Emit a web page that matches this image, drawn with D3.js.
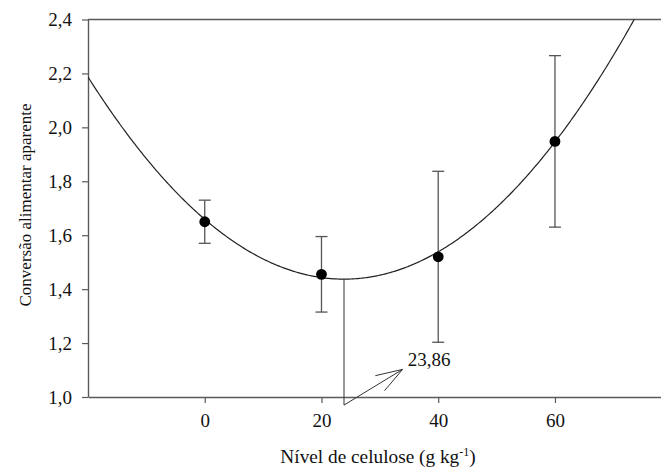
<!DOCTYPE html>
<html><head><meta charset="utf-8">
<script src="https://cdn.jsdelivr.net/npm/d3@7"></script>
<style>
html,body{margin:0;padding:0;background:#fff;}
</style></head>
<body>
<svg id="chart" width="661" height="469"></svg>
<script>
// ---- data ----
const levels = [0, 20, 40, 60];
const means = [1.65, 1.455, 1.52, 1.948];
const errors = [0.08, 0.14, 0.317, 0.318];
const xTicks = [0, 20, 40, 60];
const yTicks = [1.0, 1.2, 1.4, 1.6, 1.8, 2.0, 2.2, 2.4];
// fitted quadratic: y = b0 + b1*x + b2*x^2
const coef = [1.659, -0.0186, 0.0003897];
const xMin = 23.86;
const minLabel = "23,86";

const FONT = "Liberation Serif, Tinos, Times New Roman, Times, Nimbus Roman, DejaVu Serif, serif";
const svg = d3.select("#chart").attr("font-family", FONT);
const m = {left: 88, top: 19.5, bottom: 397, right: 671.7};
const x = d3.scaleLinear().domain([-20, 80]).range([m.left, m.right]);
const y = d3.scaleLinear().domain([1.0, 2.4]).range([m.bottom, m.top]);
const fmt = d => d3.format(".1f")(d).replace(".", ",");
const axisColor = "#5a5a5a";

// clip
svg.append("clipPath").attr("id", "clip").append("rect")
  .attr("x", m.left).attr("y", m.top).attr("width", m.right - m.left).attr("height", m.bottom - m.top);

// top frame line
svg.append("line").attr("x1", m.left).attr("x2", m.right).attr("y1", m.top).attr("y2", m.top)
  .attr("stroke", axisColor).attr("stroke-width", 1.4);

// axes
const gx = svg.append("g").attr("transform", `translate(0,${m.bottom})`)
  .call(d3.axisBottom(x).tickValues(xTicks).tickSize(6).tickPadding(11).tickSizeOuter(0));
const gy = svg.append("g").attr("transform", `translate(${m.left},0)`)
  .call(d3.axisLeft(y).tickValues(yTicks).tickFormat(fmt).tickSize(6).tickPadding(10).tickSizeOuter(0));
[gx, gy].forEach(g => {
  g.attr("font-family", FONT).attr("font-size", 19);
  g.select(".domain").attr("stroke", axisColor).attr("stroke-width", 1.4);
  g.selectAll(".tick line").attr("stroke", axisColor).attr("stroke-width", 1.2);
  g.selectAll("text").attr("fill", "#111");
});

// fitted curve
const f = v => coef[0] + coef[1] * v + coef[2] * v * v;
const xs = d3.range(-20, 80.01, 0.25);
svg.append("path").datum(xs).attr("clip-path", "url(#clip)")
  .attr("d", d3.line().x(d => x(d)).y(d => y(f(d))))
  .attr("fill", "none").attr("stroke", "#222").attr("stroke-width", 1.2);

// error bars
const eb = svg.append("g").attr("stroke", "#555").attr("stroke-width", 1.3);
levels.forEach((lv, i) => {
  const lo = means[i] - errors[i], hi = means[i] + errors[i];
  eb.append("line").attr("x1", x(lv)).attr("x2", x(lv)).attr("y1", y(lo)).attr("y2", y(hi));
  eb.append("line").attr("x1", x(lv) - 6).attr("x2", x(lv) + 6).attr("y1", y(lo)).attr("y2", y(lo));
  eb.append("line").attr("x1", x(lv) - 6).attr("x2", x(lv) + 6).attr("y1", y(hi)).attr("y2", y(hi));
});

// points
svg.selectAll("circle.pt").data(levels).enter().append("circle")
  .attr("cx", d => x(d)).attr("cy", (d, i) => y(means[i])).attr("r", 5.4).attr("fill", "#000");

// minimum annotation
const ann = svg.append("g").attr("stroke", "#333").attr("stroke-width", 1).attr("fill", "none");
const yBottomLine = 0.97;
ann.append("line").attr("x1", x(xMin)).attr("x2", x(xMin)).attr("y1", y(f(xMin))).attr("y2", y(yBottomLine));
const tip = [x(33.9), y(1.1025)];
const base = [x(xMin), y(yBottomLine)];
ann.append("line").attr("x1", base[0]).attr("y1", base[1]).attr("x2", tip[0]).attr("y2", tip[1]);
const ang = Math.atan2(base[1] - tip[1], base[0] - tip[0]);
[0.32, -0.32].forEach(da => {
  ann.append("line").attr("x1", tip[0]).attr("y1", tip[1])
    .attr("x2", tip[0] + 28 * Math.cos(ang + da)).attr("y2", tip[1] + 28 * Math.sin(ang + da));
});
svg.append("text").attr("x", x(34.8)).attr("y", y(1.115)).text(minLabel)
  .attr("font-size", 19).attr("fill", "#111");

// axis titles
const xt = svg.append("text").attr("x", 378).attr("y", 463).attr("text-anchor", "middle")
  .attr("font-size", 19.3).attr("fill", "#111");
xt.append("tspan").text("Nível de celulose (g kg");
xt.append("tspan").text("-1").attr("dy", -7).attr("font-size", 12);
xt.append("tspan").text(")").attr("dy", 7);

svg.append("text").attr("transform", "translate(31,205) rotate(-90)").attr("text-anchor", "middle")
  .attr("font-size", 17).attr("fill", "#111").text("Conversão alimentar aparente");
</script>
</body></html>
